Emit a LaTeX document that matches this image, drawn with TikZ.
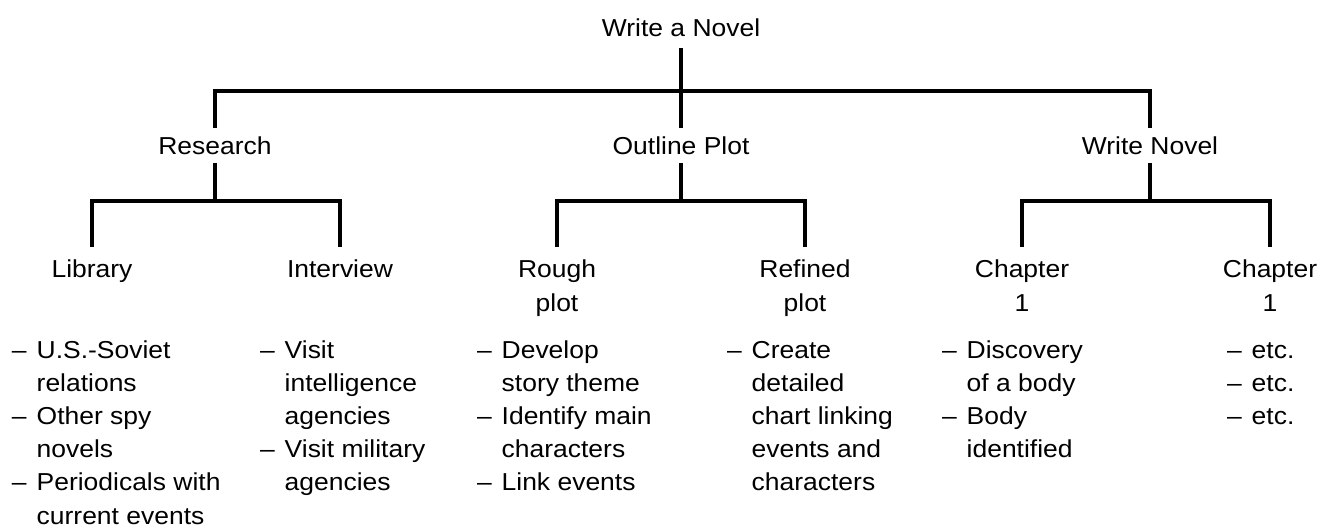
\documentclass[tikz,border=0pt]{standalone}
\usepackage{fontspec}
\setmainfont{Liberation Sans}[FakeStretch=1.08]
\newcommand{\dashlist}[1]{\begin{tabular}[t]{@{}l@{\hspace{10pt}}l@{}}#1\end{tabular}}
\newcommand{\twoline}[2]{\begin{tabular}[t]{@{}c@{}}#1\\#2\end{tabular}}
\tikzset{
  lbl/.style={inner sep=0pt, outer sep=0pt, anchor=base,
              font=\fontsize{24.5}{33.5}\selectfont},
  goal/.style={lbl, text depth=11pt},
  task/.style={lbl, text height=27pt, text depth=8pt},
  sub/.style={lbl, text height=31pt},
  notes/.style={lbl, anchor=base west, font=\fontsize{24.5}{33.2}\selectfont},
  link/.style={line width=3.5pt}
}
\begin{document}
\begin{tikzpicture}[x=1pt,y=-1pt]
  \useasboundingbox (0,0) rectangle (1330,529);

  \node[goal] (root) at (681,37) {Write a Novel};

  \node[task] (res) at (215,155) {Research};
  \node[task] (out) at (681,155) {Outline Plot};
  \node[task] (wn) at (1150,155) {Write Novel};

  \node[sub] (lib) at (92,278) {Library};
  \node[sub] (intv) at (340,278) {Interview};
  \node[sub] (rough) at (557,278) {\twoline{Rough}{plot}};
  \node[sub] (refd) at (805,278) {\twoline{Refined}{plot}};
  \node[sub] (chA) at (1022,278) {\twoline{Chapter}{1}};
  \node[sub] (chB) at (1270,278) {\twoline{Chapter}{1}};

  \node[notes] (libL) at (12,358) {\dashlist{-- & U.S.-Soviet\\ & relations\\
    -- & Other spy\\ & novels\\ -- & Periodicals with\\ & current events}};
  \node[notes] (intvL) at (260,358) {\dashlist{-- & Visit\\ & intelligence\\
    & agencies\\ -- & Visit military\\ & agencies}};
  \node[notes] (roughL) at (477,358) {\dashlist{-- & Develop\\ & story theme\\
    -- & Identify main\\ & characters\\ -- & Link events}};
  \node[notes] (refdL) at (727,358) {\dashlist{-- & Create\\ & detailed\\
    & chart linking\\ & events and\\ & characters}};
  \node[notes] (chAL) at (942,358) {\dashlist{-- & Discovery\\ & of a body\\
    -- & Body\\ & identified}};
  \node[notes] (chBL) at (1227,358) {\dashlist{-- & etc.\\ -- & etc.\\ -- & etc.}};

  % tree lines
  \draw[link] (root.south) -- (out.north);
  \draw[link] (res.north) -- ++(0,-37) -| (wn.north);
  \foreach \p/\a/\b in {res/lib/intv, out/rough/refd, wn/chA/chB}{
    \draw[link] (\p.south) -- ++(0,38) coordinate (j\p);
    \draw[link] (\a.north) |- (j\p) -| (\b.north);
  }
\end{tikzpicture}
\end{document}
